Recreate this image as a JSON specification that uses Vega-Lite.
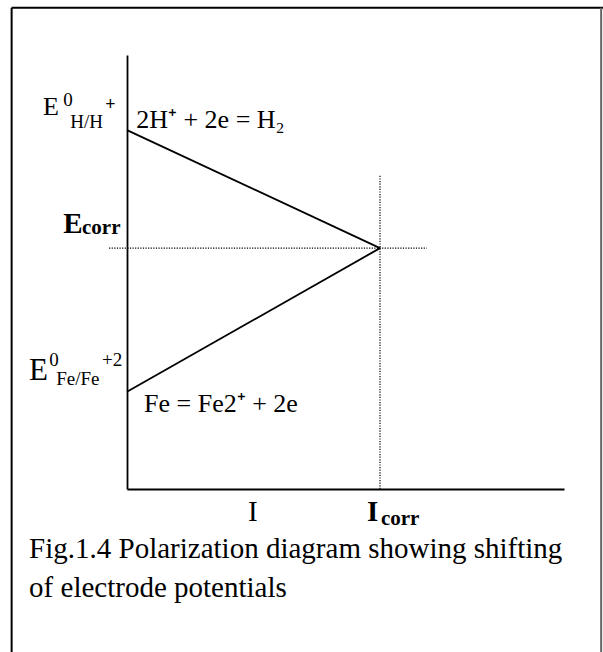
{
  "$schema": "https://vega.github.io/schema/vega-lite/v6.json",
  "autosize": "none",
  "width": 437,
  "height": 434,
  "padding": {"left": 127, "top": 55, "right": 39, "bottom": 163},
  "background": "white",
  "config": {
    "view": {"stroke": null},
    "text": {"font": "Liberation Serif", "color": "black", "align": "left", "baseline": "alphabetic"}
  },
  "datasets": {
    "curves": [
      {"I": 0, "E": 82.7, "reaction": "2H+ + 2e = H2"},
      {"I": 57.9, "E": 55.5, "reaction": "2H+ + 2e = H2"},
      {"I": 0, "E": 22.4, "reaction": "Fe = Fe2+ + 2e"},
      {"I": 57.9, "E": 55.5, "reaction": "Fe = Fe2+ + 2e"}
    ],
    "corrH": [{"I": -4.1, "I2": 68.6, "E": 55.5}],
    "corrV": [{"I": 57.9, "E": 0, "E2": 72.4}],
    "frame": [
      {"side": "left", "x": -26.4, "x2": -26.4, "y": 110.9, "y2": -40},
      {"side": "top", "x": -26.4, "x2": 109.5, "y": 110.9, "y2": 110.9},
      {"side": "right", "x": 108.5, "x2": 108.5, "y": 110.9, "y2": -40}
    ],
    "labelsMain": [
      {"text": "2H⁺ +  2e = H₂", "x": 2.1, "y": 83.2},
      {"text": "Fe = Fe2⁺ + 2e", "x": 3.9, "y": 17.7},
      {"text": "E", "x": -19.2, "y": 86.2}
    ],
    "labelsE": [
      {"text": "E", "x": -22.4, "y": 25.1}
    ],
    "labelsSup": [
      {"text": "0", "x": -14.6, "y": 88.2},
      {"text": "0", "x": -17.8, "y": 28.3},
      {"text": "+2", "x": -5.7, "y": 28.3}
    ],
    "labelsSub": [
      {"text": "H/H", "x": -13.0, "y": 83.2},
      {"text": "Fe/Fe", "x": -16.2, "y": 24.0}
    ],
    "labelsPlus": [
      {"text": "+", "x": -5.0, "y": 87.3}
    ],
    "boldBig": [
      {"text": "E", "x": -14.6, "y": 59.0},
      {"text": "I", "x": 54.9, "y": -7.4}
    ],
    "boldSub": [
      {"text": "corr", "x": -10.3, "y": 58.8},
      {"text": "corr", "x": 58.1, "y": -8.3}
    ],
    "axisName": [
      {"text": "I", "x": 27.7, "y": -7.4}
    ],
    "caption": [
      {"text": "Fig.1.4 Polarization diagram showing shifting", "x": -22.4, "y": -15.9},
      {"text": "of electrode potentials", "x": -22.4, "y": -24.9}
    ]
  },
  "encoding": {
    "x": {"type": "quantitative", "scale": {"domain": [0, 100], "nice": false, "zero": false}},
    "y": {"type": "quantitative", "scale": {"domain": [0, 100], "nice": false, "zero": false}}
  },
  "layer": [
    {
      "data": {"name": "frame"},
      "transform": [{"filter": "datum.side !== 'right'"}],
      "mark": {"type": "rule", "color": "black", "strokeWidth": 2},
      "encoding": {
        "x": {"field": "x", "type": "quantitative"},
        "x2": {"field": "x2"},
        "y": {"field": "y", "type": "quantitative"},
        "y2": {"field": "y2"}
      }
    },
    {
      "data": {"name": "frame"},
      "transform": [{"filter": "datum.side === 'right'"}],
      "mark": {"type": "rule", "color": "#666666", "strokeWidth": 2},
      "encoding": {
        "x": {"field": "x", "type": "quantitative"},
        "x2": {"field": "x2"},
        "y": {"field": "y", "type": "quantitative"},
        "y2": {"field": "y2"}
      }
    },
    {
      "data": {"name": "curves"},
      "mark": {"type": "line", "color": "black", "strokeWidth": 1.8},
      "encoding": {
        "x": {
          "field": "I", "type": "quantitative",
          "axis": {"title": null, "labels": false, "ticks": false, "grid": false, "domainColor": "black", "domainWidth": 1.8}
        },
        "y": {
          "field": "E", "type": "quantitative",
          "axis": {"title": null, "labels": false, "ticks": false, "grid": false, "domainColor": "black", "domainWidth": 1.8}
        },
        "detail": {"field": "reaction"}
      }
    },
    {
      "data": {"name": "corrH"},
      "mark": {"type": "rule", "color": "black", "strokeWidth": 1.2, "strokeDash": [1.2, 1.4]},
      "encoding": {
        "x": {"field": "I", "type": "quantitative"},
        "x2": {"field": "I2"},
        "y": {"field": "E", "type": "quantitative"}
      }
    },
    {
      "data": {"name": "corrV"},
      "mark": {"type": "rule", "color": "black", "strokeWidth": 1.2, "strokeDash": [1.2, 1.4]},
      "encoding": {
        "x": {"field": "I", "type": "quantitative"},
        "y": {"field": "E", "type": "quantitative"},
        "y2": {"field": "E2"}
      }
    },
    {
      "data": {"name": "labelsMain"},
      "mark": {"type": "text", "fontSize": 26},
      "encoding": {
        "x": {"field": "x", "type": "quantitative"},
        "y": {"field": "y", "type": "quantitative"},
        "text": {"field": "text"}
      }
    },
    {
      "data": {"name": "labelsE"},
      "mark": {"type": "text", "fontSize": 31},
      "encoding": {
        "x": {"field": "x", "type": "quantitative"},
        "y": {"field": "y", "type": "quantitative"},
        "text": {"field": "text"}
      }
    },
    {
      "data": {"name": "labelsSup"},
      "mark": {"type": "text", "fontSize": 19},
      "encoding": {
        "x": {"field": "x", "type": "quantitative"},
        "y": {"field": "y", "type": "quantitative"},
        "text": {"field": "text"}
      }
    },
    {
      "data": {"name": "labelsSub"},
      "mark": {"type": "text", "fontSize": 19},
      "encoding": {
        "x": {"field": "x", "type": "quantitative"},
        "y": {"field": "y", "type": "quantitative"},
        "text": {"field": "text"}
      }
    },
    {
      "data": {"name": "labelsPlus"},
      "mark": {"type": "text", "fontSize": 18, "fontWeight": "bold"},
      "encoding": {
        "x": {"field": "x", "type": "quantitative"},
        "y": {"field": "y", "type": "quantitative"},
        "text": {"field": "text"}
      }
    },
    {
      "data": {"name": "boldBig"},
      "mark": {"type": "text", "fontSize": 29, "fontWeight": "bold"},
      "encoding": {
        "x": {"field": "x", "type": "quantitative"},
        "y": {"field": "y", "type": "quantitative"},
        "text": {"field": "text"}
      }
    },
    {
      "data": {"name": "boldSub"},
      "mark": {"type": "text", "fontSize": 21, "fontWeight": "bold"},
      "encoding": {
        "x": {"field": "x", "type": "quantitative"},
        "y": {"field": "y", "type": "quantitative"},
        "text": {"field": "text"}
      }
    },
    {
      "data": {"name": "axisName"},
      "mark": {"type": "text", "fontSize": 29},
      "encoding": {
        "x": {"field": "x", "type": "quantitative"},
        "y": {"field": "y", "type": "quantitative"},
        "text": {"field": "text"}
      }
    },
    {
      "data": {"name": "caption"},
      "mark": {"type": "text", "fontSize": 29},
      "encoding": {
        "x": {"field": "x", "type": "quantitative"},
        "y": {"field": "y", "type": "quantitative"},
        "text": {"field": "text"}
      }
    }
  ]
}
